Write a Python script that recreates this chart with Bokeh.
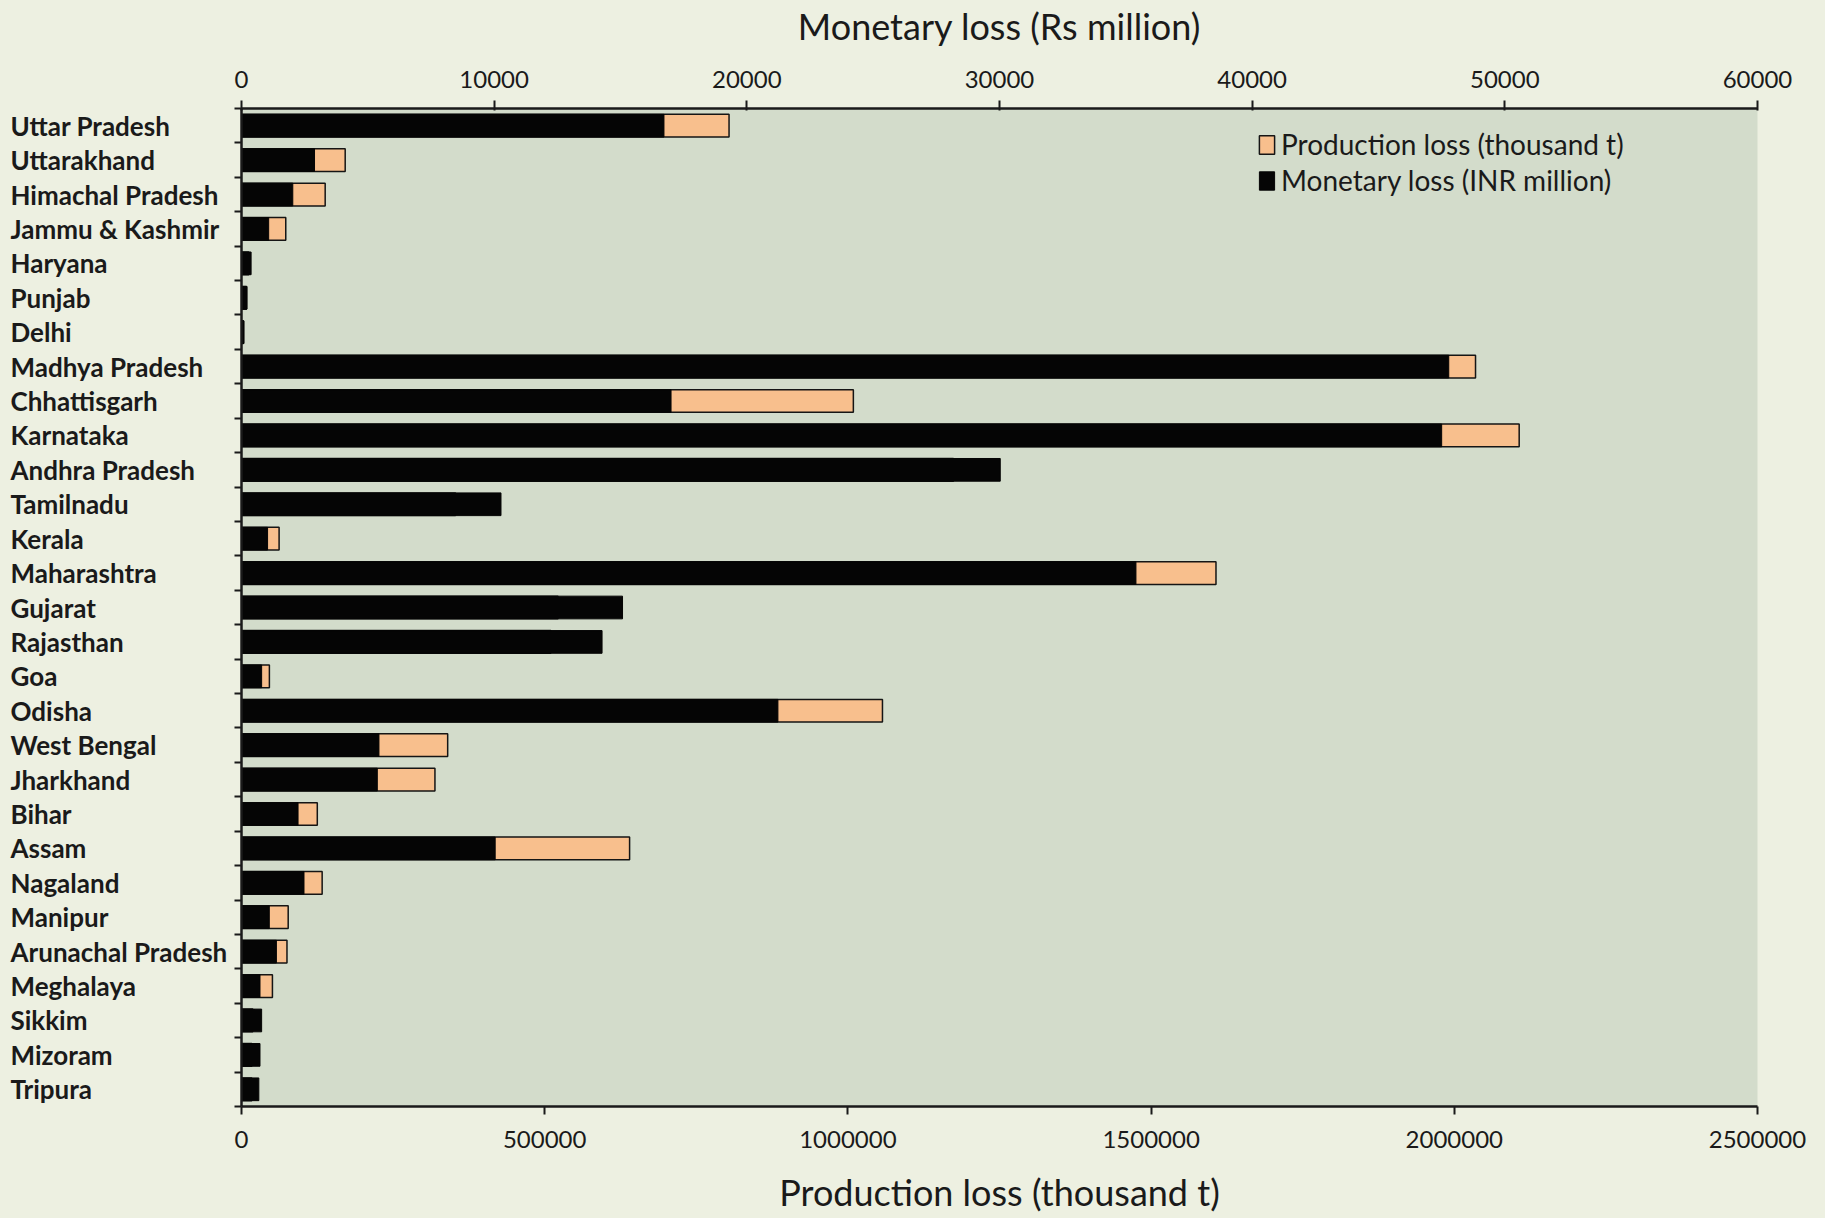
from bokeh.plotting import figure
from bokeh.layouts import row
from bokeh.models import (Range1d, LinearAxis, FixedTicker, ColumnDataSource,
                          Legend, LegendItem)
from bokeh.core.properties import value
from bokeh.embed import file_html
from bokeh.resources import INLINE

# ---- data ----
states = ["Uttar Pradesh", "Uttarakhand", "Himachal Pradesh", "Jammu & Kashmir",
          "Haryana", "Punjab", "Delhi", "Madhya Pradesh", "Chhattisgarh",
          "Karnataka", "Andhra Pradesh", "Tamilnadu", "Kerala", "Maharashtra",
          "Gujarat", "Rajasthan", "Goa", "Odisha", "West Bengal", "Jharkhand",
          "Bihar", "Assam", "Nagaland", "Manipur", "Arunachal Pradesh",
          "Meghalaya", "Sikkim", "Mizoram", "Tripura"]

# Production loss (thousand t) - bottom axis
production = [804000, 171000, 138000, 73000,
              12000, 8000, 3000, 2035000, 1009000,
              2107000, 1174000, 353000, 62000, 1607000,
              522000, 510000, 46000, 1057000, 340000, 319000,
              125000, 640000, 133000, 77000, 75000,
              51000, 18600, 17000, 17000]

# Monetary loss (INR million) - top axis
monetary = [16720, 2890, 2030, 1075,
            380, 220, 100, 47780, 17000,
            47500, 30030, 10270, 1032, 35400,
            15080, 14270, 797, 21230, 5440, 5375,
            2238, 10040, 2473, 1100, 1381,
            732, 797, 732, 686]

prod_ticks = [0, 500000, 1000000, 1500000, 2000000, 2500000]
mon_ticks = [0, 10000, 20000, 30000, 40000, 50000, 60000]

# ---- styling ----
OUTER_BG = "#edf0e1"
PLOT_BG = "#d3dccb"
PEACH = "#f8bf8d"
TEXT = "#1a1a1a"
FONT = "Lato"

W, H = 1825, 1218
LEFT_W = 229          # width of the category-label column
FRAME_LEFT = 241      # x of the value axis origin in the page
TOP, BOTTOM, RIGHT = 108, 112, 68

n = len(states)
ypos = list(range(n))
src = ColumnDataSource(dict(state=states, y=ypos, prod=production, mon=monetary))
yr = Range1d(n - 0.5, -0.5)

# ---- left column: category labels ----
pl = figure(width=LEFT_W, height=H, x_range=Range1d(0, LEFT_W), y_range=yr,
            x_axis_type=None, y_axis_type=None,
            output_backend="svg", toolbar_location=None,
            min_border_left=0, min_border_right=0,
            min_border_top=TOP, min_border_bottom=BOTTOM)
pl.background_fill_color = OUTER_BG
pl.border_fill_color = OUTER_BG
pl.outline_line_color = None
pl.text(x=10, y="y", text="state", source=src, text_align="left",
        text_baseline="middle", text_font=value(FONT), text_font_size="26px",
        text_font_style="bold", text_color=TEXT)

# ---- main chart ----
p = figure(width=W - LEFT_W, height=H,
           x_range=Range1d(0, prod_ticks[-1]), y_range=yr,
           x_axis_type=None, y_axis_type=None,
           output_backend="svg", toolbar_location=None,
           min_border_left=FRAME_LEFT - LEFT_W, min_border_right=RIGHT,
           min_border_top=TOP, min_border_bottom=BOTTOM)
p.extra_x_ranges = {"mon": Range1d(0, mon_ticks[-1])}
p.background_fill_color = PLOT_BG
p.border_fill_color = OUTER_BG
p.outline_line_color = None
p.xgrid.visible = False
p.ygrid.visible = False

# bars: production behind, monetary on top
r_prod = p.hbar(y="y", left=0, right="prod", height=0.66, source=src,
                fill_color=PEACH, line_color="#151515", line_width=1.5)
r_mon = p.hbar(y="y", left=0, right="mon", height=0.66, source=src,
               x_range_name="mon", fill_color="#050505", line_color="#050505",
               line_width=1)

xb = LinearAxis(ticker=FixedTicker(ticks=prod_ticks),
                axis_label="Production loss (thousand t)")
xt = LinearAxis(x_range_name="mon", ticker=FixedTicker(ticks=mon_ticks),
                axis_label="Monetary loss (Rs million)")
for ax in (xb, xt):
    ax.axis_line_color = "#1a1a1a"
    ax.axis_line_width = 2.5
    ax.major_tick_line_color = "#1a1a1a"
    ax.major_tick_line_width = 2
    ax.major_tick_out = 8
    ax.major_tick_in = 2
    ax.minor_tick_line_color = None
    ax.major_label_text_font = FONT
    ax.major_label_text_font_size = "24px"
    ax.major_label_text_color = TEXT
    ax.axis_label_text_font = FONT
    ax.axis_label_text_font_size = "36px"
    ax.axis_label_text_font_style = "normal"
    ax.axis_label_text_color = TEXT
    ax.formatter.use_scientific = False
xb.major_tick_in = 0
xb.major_label_standoff = 16
xb.axis_label_standoff = 19
xt.major_label_standoff = 13
xt.axis_label_standoff = 20
p.add_layout(xb, "below")
p.add_layout(xt, "above")

# left axis: line with ticks at category boundaries
bounds = [i - 0.5 for i in range(n + 1)]
yl = LinearAxis(ticker=FixedTicker(ticks=[], minor_ticks=bounds))
yl.axis_line_color = "#1a1a1a"
yl.axis_line_width = 2.5
yl.minor_tick_line_color = "#1a1a1a"
yl.minor_tick_line_width = 2
yl.minor_tick_out = 7
yl.minor_tick_in = 0
yl.major_tick_line_color = None
yl.major_label_text_font_size = "0px"
yl.major_label_standoff = 0
p.add_layout(yl, "left")

legend = Legend(items=[LegendItem(label="Production loss (thousand t)", renderers=[r_prod]),
                       LegendItem(label="Monetary loss (INR million)", renderers=[r_mon])],
                location=(1016, 909))
legend.background_fill_alpha = 0
legend.border_line_color = None
legend.label_text_font = FONT
legend.label_text_font_size = "28px"
legend.label_text_font_style = "normal"
legend.label_text_color = TEXT
legend.glyph_width = 19
legend.glyph_height = 23
legend.label_height = 24
legend.label_standoff = 5
legend.spacing = 2
legend.padding = 2
legend.margin = 0
p.add_layout(legend)

layout = row(pl, p, spacing=0)
layout.styles = {"background-color": OUTER_BG}
open("out.html", "w").write(file_html(layout, INLINE))
